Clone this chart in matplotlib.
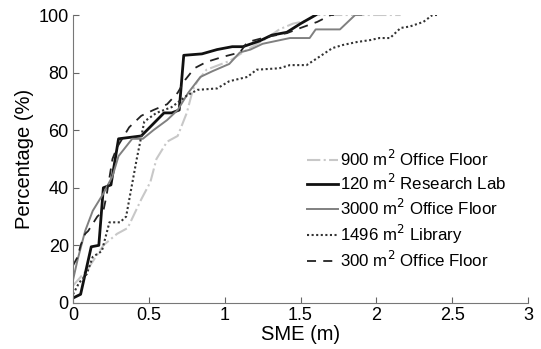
import matplotlib
matplotlib.use("Agg")
import matplotlib.pyplot as plt

plt.rcParams["font.family"] = ["Liberation Sans", "DejaVu Sans"]

# ------- CDF 数据 (SME m, 百分比 %) -------
office900_x = [0, 0.1, 0.2, 0.29, 0.36, 0.45, 0.51, 0.55, 0.62, 0.69, 0.75, 0.79, 0.82,
               0.88, 1.03, 1.15, 1.28, 1.36, 1.45, 1.54, 1.6, 2.16]
office900_y = [6, 12, 20, 24, 26, 36, 42, 50, 56, 58, 66, 74, 77,
               81, 84, 88, 92, 95, 97, 98, 100, 100]

lab120_x = [0, 0.05, 0.12, 0.17, 0.2, 0.25, 0.3, 0.45, 0.6, 0.65, 0.7, 0.73, 0.85,
            0.95, 1.05, 1.12, 1.23, 1.31, 1.41, 1.5, 1.6]
lab120_y = [1.7, 3, 19.5, 20, 40, 41, 57, 58, 66, 66, 67, 86, 86.5,
            88, 89, 89, 91, 93, 94, 97, 100]

office3000_x = [0, 0.03, 0.08, 0.13, 0.2, 0.26, 0.3, 0.39, 0.46, 0.53, 0.62, 0.69, 0.76,
                0.84, 0.92, 1.03, 1.1, 1.17, 1.25, 1.34, 1.43, 1.56, 1.6, 1.76, 1.84, 1.86, 1.9]
office3000_y = [8, 15, 25, 32, 38, 44, 51, 57, 57, 60, 63.5, 67, 73,
                78.5, 80.5, 83, 87, 88, 90, 91, 92, 92, 95, 95, 99, 100, 100]

library_x = [0, 0.04, 0.09, 0.13, 0.19, 0.24, 0.31, 0.35, 0.42, 0.47, 0.55, 0.65, 0.75,
             0.82, 0.95, 1.03, 1.15, 1.21, 1.36, 1.43, 1.54, 1.61, 1.71, 1.78, 1.87,
             1.96, 2.02, 2.09, 2.16, 2.22, 2.31, 2.37, 2.4]
library_y = [3, 7, 10, 16, 18, 28, 28, 30, 50, 63, 66, 68, 72,
             74, 74.5, 77, 78.5, 81, 81.5, 82.6, 82.6, 85, 88.5, 89.6, 90.6,
             91.3, 92, 92, 95.5, 96, 97.6, 100, 100]

office300_x = [0, 0.03, 0.05, 0.08, 0.1, 0.16, 0.2, 0.22, 0.26, 0.29, 0.37, 0.45, 0.53,
               0.62, 0.69, 0.74, 0.8, 0.88, 0.99, 1.1, 1.15, 1.28, 1.41, 1.5, 1.61, 1.7, 1.72]
office300_y = [13, 16, 20, 24, 25, 30, 32, 37, 50, 54, 61, 65, 67,
               69, 73, 77.5, 81.5, 83.7, 85.5, 87, 90.6, 92.4, 93.7, 95.5, 97.6, 100, 100]

labels = ["900 m$^2$ Office Floor", "120 m$^2$ Research Lab", "3000 m$^2$ Office Floor",
          "1496 m$^2$ Library", "300 m$^2$ Office Floor"]

fig = plt.figure(figsize=(5.41, 3.49), dpi=100)
ax = fig.add_axes([0.135, 0.132, 0.841, 0.825])

ax.plot(office900_x, office900_y, ls="-.", c="#c8c8c8", lw=1.5, label=labels[0])
ax.plot(lab120_x, lab120_y, "-", c="#111111", lw=2.0, label=labels[1])
ax.plot(office3000_x, office3000_y, "-", c="#808080", lw=1.4, label=labels[2])
ax.plot(library_x, library_y, ls=(0, (1, 1.2)), c="#333333", lw=1.5, label=labels[3])
ax.plot(office300_x, office300_y, ls=(0, (5, 4)), c="#222222", lw=1.3, label=labels[4])

ax.set_xlim(0, 3)
ax.set_ylim(0, 100)
ax.set_xticks([0, 0.5, 1, 1.5, 2, 2.5, 3])
ax.set_xticklabels(["0", "0.5", "1", "1.5", "2", "2.5", "3"])
ax.set_yticks([0, 20, 40, 60, 80, 100])
ax.set_xlabel("SME (m)", fontsize=14.5, labelpad=1)
ax.set_ylabel("Percentage (%)", fontsize=14.5, labelpad=3)
ax.tick_params(direction="in", length=4, labelsize=13, color="#666666", pad=3)
for s in ["top", "right"]:
    ax.spines[s].set_visible(False)
for s in ["left", "bottom"]:
    ax.spines[s].set_color("#777777")

ax.legend(loc="upper left", bbox_to_anchor=(0.5, 0.56), frameon=False, fontsize=12.2,
          handlelength=1.8, handletextpad=0.12, labelspacing=0.27, borderaxespad=0)

fig.savefig("out.png", dpi=100)
